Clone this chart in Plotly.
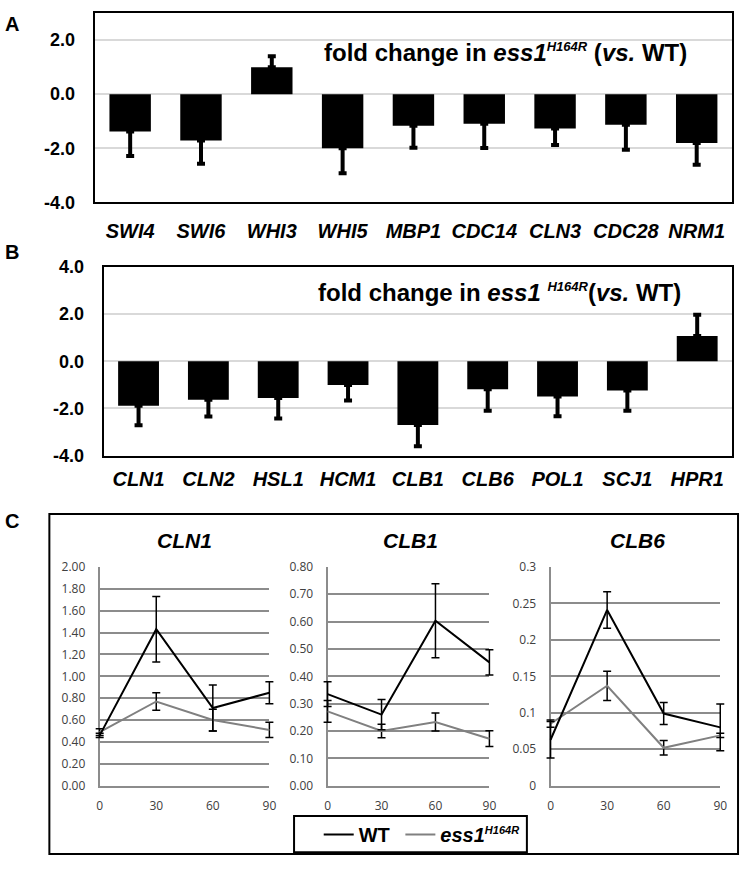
import plotly.graph_objects as go

# ---------------- data ----------------
A_genes = ["SWI4", "SWI6", "WHI3", "WHI5", "MBP1", "CDC14", "CLN3", "CDC28", "NRM1"]
A_fold = [-1.38, -1.71, 0.99, -2.00, -1.17, -1.09, -1.27, -1.13, -1.80]
A_err = [0.90, 0.86, 0.41, 0.92, 0.81, 0.90, 0.61, 0.92, 0.81]

B_genes = ["CLN1", "CLN2", "HSL1", "HCM1", "CLB1", "CLB6", "POL1", "SCJ1", "HPR1"]
B_fold = [-1.89, -1.63, -1.56, -1.01, -2.71, -1.19, -1.50, -1.24, 1.07]
B_err = [0.83, 0.72, 0.87, 0.66, 0.90, 0.91, 0.83, 0.86, 0.90]

bar_tickvals = [-4, -2, 0, 2, 4]
bar_ticktext = ["-4.0", "-2.0", "0.0", "2.0", "4.0"]

time_min = [0, 30, 60, 90]
CLN1_wt = [0.46, 1.43, 0.71, 0.85]
CLN1_wt_err = [0.02, 0.30, 0.21, 0.10]
CLN1_mut = [0.49, 0.77, 0.60, 0.51]
CLN1_mut_err = [0.03, 0.08, 0.10, 0.07]
CLB1_wt = [0.335, 0.26, 0.603, 0.451]
CLB1_wt_err = [0.045, 0.055, 0.135, 0.046]
CLB1_mut = [0.272, 0.20, 0.233, 0.172]
CLB1_mut_err = [0.04, 0.025, 0.033, 0.029]
CLB6_wt = [0.063, 0.241, 0.099, 0.080]
CLB6_wt_err = [0.025, 0.025, 0.015, 0.032]
CLB6_mut = [0.085, 0.137, 0.052, 0.069]
CLB6_mut_err = [0.005, 0.020, 0.010, 0.003]

W, H = 747, 869
def px(x):
    return x / W
def py(y):
    return 1 - y / H

ARIAL = "Liberation Sans, Arial, Helvetica, sans-serif"
CAL = "Open Sans, Noto Sans, sans-serif"
SUP = '<sup><span style="font-size:13px"><i>H164R</i></span></sup>'

fig = go.Figure()

def one_sided(vals, errs):
    plus = [e if v >= 0 else 0 for v, e in zip(vals, errs)]
    minus = [e if v < 0 else 0 for v, e in zip(vals, errs)]
    return plus, minus

# ---------------- bar panels ----------------
for idx, (genes, vals, errs) in enumerate([(A_genes, A_fold, A_err), (B_genes, B_fold, B_err)]):
    plus, minus = one_sided(vals, errs)
    sfx = "" if idx == 0 else "2"
    fig.add_trace(go.Bar(
        x=genes, y=vals, marker=dict(color="black", line=dict(width=0)),
        error_y=dict(type="data", symmetric=False, array=plus, arrayminus=minus,
                     color="black", thickness=4, width=4),
        xaxis="x" + sfx, yaxis="y" + sfx, showlegend=False,
    ))

# ---------------- line panels ----------------
# visible grid axes: x3..x5 / y3..y5 ; data axes (same scale, slightly wider clip): x6..x8 / y6..y8
for s in ["3", "4", "5"]:
    fig.add_trace(go.Scatter(x=[], y=[], xaxis="x" + s, yaxis="y" + s,
                             showlegend=False, hoverinfo="skip"))

line_sets = [
    (CLN1_wt, CLN1_wt_err, CLN1_mut, CLN1_mut_err, "6"),
    (CLB1_wt, CLB1_wt_err, CLB1_mut, CLB1_mut_err, "7"),
    (CLB6_wt, CLB6_wt_err, CLB6_mut, CLB6_mut_err, "8"),
]
for i, (wt, wte, mu, mue, s) in enumerate(line_sets):
    fig.add_trace(go.Scatter(
        x=time_min, y=mu, mode="lines", line=dict(color="#808080", width=2),
        error_y=dict(type="data", array=mue, color="black", thickness=1.5, width=4),
        xaxis="x" + s, yaxis="y" + s,
        name='<b><i>ess1</i></b><sup><span style="font-size:11px"><b><i>H164R</i></b></span></sup>',
        showlegend=(i == 0), legendrank=2,
    ))
    fig.add_trace(go.Scatter(
        x=time_min, y=wt, mode="lines", line=dict(color="black", width=2),
        error_y=dict(type="data", array=wte, color="black", thickness=1.5, width=4),
        xaxis="x" + s, yaxis="y" + s,
        name="<b>WT</b>&nbsp;", showlegend=(i == 0), legendrank=1,
    ))

# ---------------- axes ----------------
bar_x = dict(type="category", showline=True, linecolor="black", linewidth=2, mirror=True,
             showgrid=False, ticks="", tickangle=0,
             tickfont=dict(family=ARIAL, size=20, color="black", weight="bold", style="italic"))
bar_y = dict(showline=True, linecolor="black", linewidth=2, mirror=True,
             showgrid=True, gridcolor="#d9d9d9", gridwidth=2,
             zeroline=True, zerolinecolor="#d9d9d9", zerolinewidth=2,
             tickvals=bar_tickvals, ticktext=bar_ticktext, ticks="", ticklabelstandoff=14,
             tickfont=dict(family=ARIAL, size=18, color="black", weight="bold"))

fig.update_layout(
    xaxis=dict(bar_x, domain=[px(93), px(739)], anchor="y", ticklabelstandoff=10),
    yaxis=dict(bar_y, domain=[py(197), py(3)], range=[-4, 3], anchor="x"),
    xaxis2=dict(bar_x, domain=[px(102), px(739)], anchor="y2", ticklabelstandoff=4),
    yaxis2=dict(bar_y, domain=[py(456), py(263)], range=[-4, 4], anchor="x2"),
    bargap=0.415,
)

line_doms = [(98, 270), (329, 493), (555, 727)]
yranges = [([0, 2], 0.2, ".2f"), ([0, 0.8], 0.1, ".2f"), ([0, 0.3], 0.05, "")]
PAD = 8
for k, ((x0, x1), (rng, dt, fmt)) in enumerate(zip(line_doms, yranges)):
    s = str(3 + k)
    d = str(6 + k)
    fig.layout["xaxis" + s] = dict(
        domain=[px(x0), px(x1)], range=[0, 90], anchor="y" + s,
        tickvals=time_min, showgrid=False, zeroline=False,
        showline=True, linecolor="#8c8c8c", linewidth=2, ticks="", ticklabelstandoff=8,
        tickfont=dict(family=CAL, size=12, color="#404040"))
    fig.layout["yaxis" + s] = dict(
        domain=[py(794), py(570)], range=rng, anchor="x" + s, dtick=dt, tick0=0,
        tickformat=fmt, showgrid=True, gridcolor="#8c8c8c", gridwidth=2, zeroline=False,
        showline=True, linecolor="#8c8c8c", linewidth=2, ticks="", ticklabelstandoff=10,
        tickfont=dict(family=CAL, size=12, color="#404040"))
    ext = PAD * 90.0 / (x1 - x0)
    fig.layout["xaxis" + d] = dict(
        domain=[px(x0 - PAD), px(x1 + PAD)], range=[-ext, 90 + ext], anchor="y" + d,
        visible=False, showgrid=False, zeroline=False)
    fig.layout["yaxis" + d] = dict(
        domain=[py(794), py(570)], range=rng, anchor="x" + d,
        visible=False, showgrid=False, zeroline=False)

# ---------------- annotations ----------------
ann = []
def add_ann(x, y, text, size):
    ann.append(dict(x=px(x), y=py(y), xref="paper", yref="paper", text=text,
                    showarrow=False, xanchor="center", yanchor="middle",
                    font=dict(family=ARIAL, size=size, color="black")))

add_ann(509, 43, "<b>fold change in <i>ess1</i>" + SUP + " (<i>vs.</i> WT)</b>", 24)
add_ann(503, 289, "<b>fold change in <i>ess1 </i>" + SUP + "(<i>vs.</i> WT)</b>", 24)
for lab, x, y in [("A", 9, 14), ("B", 9, 248), ("C", 9, 523)]:
    add_ann(x, y, "<b>%s</b>" % lab, 20)
for lab, x in [("CLN1", 184), ("CLB1", 413), ("CLB6", 643)]:
    add_ann(x, 543, "<b><i>%s</i></b>" % lab, 21)

fig.update_layout(
    annotations=ann,
    shapes=[
        dict(type="rect", xref="paper", yref="paper", x0=px(47), x1=px(745),
             y0=py(864), y1=py(516), line=dict(color="black", width=2)),
        dict(type="rect", xref="paper", yref="paper", x0=px(295), x1=px(531),
             y0=py(862), y1=py(825), line=dict(color="black", width=2)),
    ],
    width=W, height=H, margin=dict(l=0, r=0, t=0, b=0),
    paper_bgcolor="white", plot_bgcolor="rgba(0,0,0,0)",
    showlegend=True,
    legend=dict(orientation="h", x=px(320), xanchor="left", y=py(844), yanchor="middle",
                borderwidth=0, bgcolor="rgba(0,0,0,0)",
                font=dict(family=ARIAL, size=20, color="black"),
                itemwidth=30, traceorder="normal"),
)

fig.write_html("out.html", config={"displayModeBar": False},
               post_script="document.body.style.margin='0';document.body.style.overflow='hidden';")
